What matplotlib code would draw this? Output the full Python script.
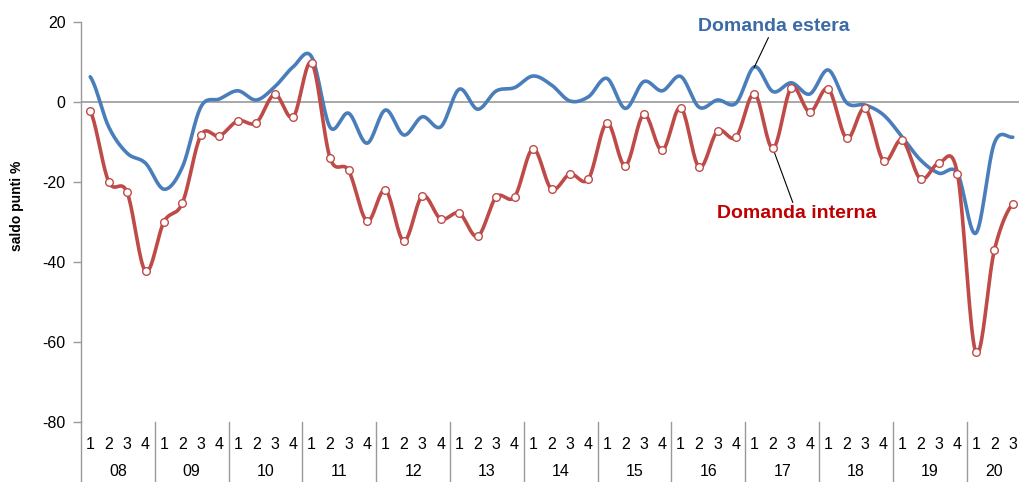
import numpy as np
import matplotlib
matplotlib.use("Agg")
import matplotlib.pyplot as plt
import matplotlib.transforms as mtransforms

plt.rcParams['font.family'] = ['Liberation Sans', 'DejaVu Sans']
plt.rcParams['axes.unicode_minus'] = False

# anni e trimestri (2008Q1 - 2020Q3)
years = ['08', '09', '10', '11', '12', '13', '14', '15', '16', '17', '18', '19', '20']
quarters = []
for y in years:
    nq = 3 if y == '20' else 4
    quarters += [str(q) for q in range(1, nq + 1)]

domanda_estera = [6.3, -6.2, -12.8, -15.3,
                  -21.8, -16.2, -1.2, 0.75,
                  2.8, 0.5, 3.8, 8.8,
                  11.3, -6.3, -2.8, -10.3,
                  -2.0, -8.25, -3.7, -6.2,
                  3.2, -1.8, 2.75, 3.6,
                  6.5, 4.25, 0.25, 1.3,
                  5.9, -1.6, 5.1, 2.8,
                  6.4, -1.3, 0.5, -0.3,
                  8.8, 2.6, 4.8, 2.0,
                  8.0, -0.2, -0.75, -3.25,
                  -8.7, -14.5, -17.8, -17.8,
                  -32.8, -10.3, -8.8]

domanda_interna = [-2.25, -19.9, -22.6, -42.3,
                   -29.9, -25.2, -8.3, -8.5,
                   -4.7, -5.2, 1.9, -3.75,
                   9.8, -14.0, -17.1, -29.75,
                   -22.0, -34.75, -23.5, -29.25,
                   -27.8, -33.6, -23.75, -23.7,
                   -11.7, -21.75, -18.0, -19.25,
                   -5.25, -15.9, -3.1, -12.1,
                   -1.4, -16.3, -7.25, -8.8,
                   2.1, -11.6, 3.6, -2.5,
                   3.3, -9.1, -1.6, -14.75,
                   -9.5, -19.25, -15.25, -17.9,
                   -62.6, -37.1, -25.4]


def smooth(x, y, n=20):
    # linee smussate tipo Excel (Catmull-Rom)
    x = np.asarray(x, float)
    y = np.asarray(y, float)
    yp = np.concatenate([[y[0]], y, [y[-1]]])
    xs, ys = [], []
    for i in range(len(y) - 1):
        p0, p1, p2, p3 = yp[i], yp[i + 1], yp[i + 2], yp[i + 3]
        c1 = p1 + (p2 - p0) / 6
        c2 = p2 - (p3 - p1) / 6
        t = np.linspace(0, 1, n, endpoint=False)
        ys.append((1 - t) ** 3 * p1 + 3 * (1 - t) ** 2 * t * c1 + 3 * (1 - t) * t ** 2 * c2 + t ** 3 * p2)
        xs.append(x[i] + t * (x[i + 1] - x[i]))
    xs.append([x[-1]])
    ys.append([y[-1]])
    return np.concatenate(xs), np.concatenate(ys)


x = np.arange(len(quarters)) + 0.5

fig = plt.figure(figsize=(10.19, 4.82), dpi=100)
ax = fig.add_axes([81 / 1019, 60 / 482, 941 / 1019, 400 / 482])

blue = '#4a7ebb'
red = '#be4b48'

xe, ye = smooth(x, domanda_estera)
ax.plot(xe, ye, color=blue, lw=2.6, zorder=3, solid_capstyle='round')
xi, yi = smooth(x, domanda_interna)
ax.plot(xi, yi, color=red, lw=2.6, zorder=4, solid_capstyle='round')
ax.plot(x, domanda_interna, ls='none', marker='o', ms=5.5, mfc='white', mec=red, mew=1, zorder=5)

ax.axhline(0, color='#999999', lw=1.2, zorder=1)

ax.set_xlim(0, len(quarters))
ax.set_ylim(-80, 20)
ax.set_yticks([20, 0, -20, -40, -60, -80])
ax.tick_params(axis='y', labelsize=11.5, length=6, color='#999999', width=1, pad=5)

ax.set_xticks(x)
ax.set_xticklabels(quarters, fontsize=11.5)
ax.tick_params(axis='x', length=0, pad=11)

for s in ['top', 'right', 'bottom']:
    ax.spines[s].set_visible(False)
ax.spines['left'].set_color('#999999')
ax.spines['left'].set_linewidth(1)

trans = mtransforms.blended_transform_factory(ax.transData, ax.transAxes)
start = 0
for y in years:
    nq = 3 if y == '20' else 4
    ax.text(start + nq / 2, -49 / 400, y, transform=trans, ha='center', va='center', fontsize=11.5)
    ax.plot([start, start], [0, -0.16], transform=trans, color='#999999', lw=1, clip_on=False)
    start += nq

fig.text(17 / 1019, 1 - 206 / 482, 'saldo punti %', rotation=90, ha='center', va='center',
         fontsize=10, fontweight='bold')

# etichette delle serie
ax.annotate('Domanda estera', xy=(x[36] - 0.02, 8.6), xytext=(x[37] + 0.05, 16.8),
            fontsize=14, fontweight='bold', color='#3b6aa6', ha='center', va='bottom',
            arrowprops=dict(arrowstyle='-', color='black', lw=0.8, shrinkA=0, shrinkB=0))
ax.annotate('Domanda interna', xy=(x[37], -11.6), xytext=(x[38] + 0.3, -25.8),
            fontsize=14, fontweight='bold', color='#c00000', ha='center', va='top',
            arrowprops=dict(arrowstyle='-', color='black', lw=0.8, shrinkA=0, shrinkB=0))

fig.savefig('out.png', dpi=100)
